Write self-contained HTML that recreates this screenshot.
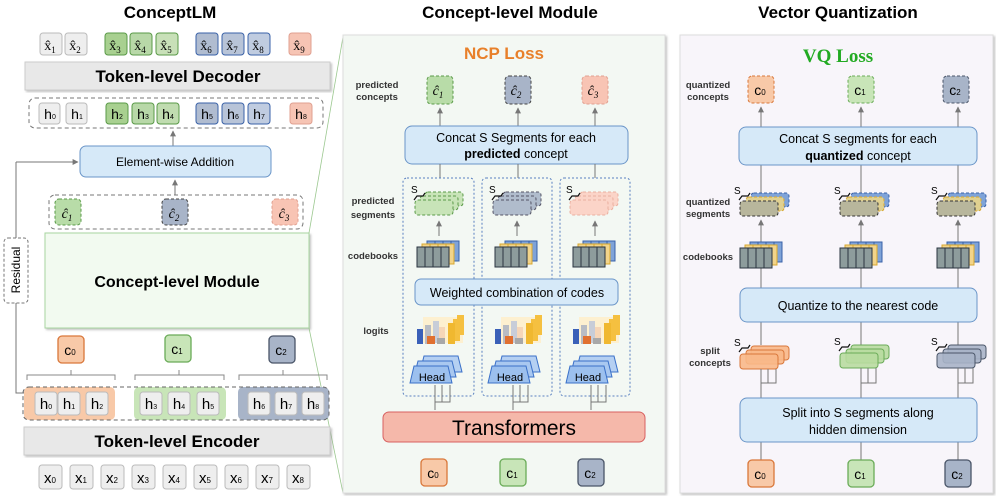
<!DOCTYPE html>
<html><head><meta charset="utf-8"><style>
html,body{margin:0;padding:0;background:#fff;}
svg{display:block;font-family:"Liberation Sans",sans-serif;}
.b{font-weight:bold}
.lab{font-size:9.5px;font-weight:bold;fill:#333;text-anchor:middle}
.ser{font-family:"Liberation Serif",serif;font-style:italic}
.xh{font-family:"Liberation Serif",serif;font-style:normal}
</style></head><body>
<svg width="996" height="496" viewBox="0 0 996 496" xmlns="http://www.w3.org/2000/svg">
<defs>
<marker id="ar" viewBox="0 0 10 10" refX="9" refY="5" markerWidth="6" markerHeight="6" orient="auto"><path d="M0,0L10,5L0,10z" fill="#777"/></marker>
<filter id="sh" x="-5%" y="-5%" width="115%" height="115%"><feDropShadow dx="1.5" dy="1.5" stdDeviation="1" flood-color="#999" flood-opacity="0.6"/></filter>
<g id="cb">
 <rect x="10" y="0" width="32" height="20" fill="#7fa3d8" stroke="#3a62a8"/>
 <path d="M18,0v20M26,0v20M34,0v20" stroke="#3a62a8"/>
 <rect x="5" y="3" width="32" height="20" fill="#f2d48a" stroke="#d8a830"/>
 <path d="M13,3v20M21,3v20M29,3v20" stroke="#d8a830"/>
 <rect x="0" y="6" width="32" height="20" fill="#8d9c9c" stroke="#2a3540"/>
 <path d="M8,6v20M16,6v20M24,6v20" stroke="#2a3540"/>
</g>
<g id="head">
 <polygon points="14,0 48,0 52,16 10,16" fill="#b5d0f2" stroke="#3a70c8"/>
 <polygon points="8,5 42,5 46,21 4,21" fill="#a9c8f0" stroke="#3a70c8"/>
 <polygon points="4,10 38,10 42,27 0,27" fill="#9cc0ee" stroke="#3a70c8"/>
</g>
<g id="logit">
 <rect x="6" y="2" width="40" height="26" fill="#fdf0d0"/>
 <rect x="16" y="6" width="6" height="22" fill="#c8cdd8"/>
 <rect x="22" y="12" width="6" height="16" fill="#f6d6b8"/>
 <rect x="0" y="14" width="6" height="15" fill="#3a60b8"/>
 <rect x="8" y="10" width="6" height="19" fill="#b8bcc4"/>
 <rect x="10" y="21" width="8" height="8" fill="#e07030"/>
 <rect x="20" y="23" width="8" height="6" fill="#a8a8a8"/>
 <rect x="40" y="0" width="7" height="20" fill="#f5c040"/>
 <rect x="36" y="4" width="7" height="22" fill="#f5c040"/>
 <rect x="31" y="8" width="7" height="21" fill="#f0b830"/>
</g>
</defs>

<text x="170" y="18" font-size="17" class="b" text-anchor="middle">ConceptLM</text>
<text x="510" y="18" font-size="17" class="b" text-anchor="middle">Concept-level Module</text>
<text x="838" y="18" font-size="17" class="b" text-anchor="middle">Vector Quantization</text>

<g font-size="12" text-anchor="middle">
<g stroke-width="1">
 <rect x="40" y="33" width="22" height="22" rx="3" fill="#eee" stroke="#bbb"/>
 <rect x="65" y="33" width="22" height="22" rx="3" fill="#eee" stroke="#bbb"/>
 <rect x="105" y="33" width="22" height="22" rx="3" fill="#a8d090" stroke="#5a9a48"/>
 <rect x="130" y="33" width="22" height="22" rx="3" fill="#b8d8a8" stroke="#5a9a48"/>
 <rect x="156" y="33" width="22" height="22" rx="3" fill="#c8e0b8" stroke="#5a9a48"/>
 <rect x="196" y="33" width="22" height="22" rx="3" fill="#b0bcd0" stroke="#3a62a8"/>
 <rect x="222" y="33" width="22" height="22" rx="3" fill="#b8c4d8" stroke="#3a62a8"/>
 <rect x="248" y="33" width="22" height="22" rx="3" fill="#c0cce0" stroke="#3a62a8"/>
 <rect x="289" y="33" width="22" height="22" rx="3" fill="#f6c4b4" stroke="#e0a090"/>
</g>
<g class="xh" font-size="14">
 <text x="50" y="50">x̂<tspan font-size="9" dy="3">1</tspan></text>
 <text x="75" y="50">x̂<tspan font-size="9" dy="3">2</tspan></text>
 <text x="115" y="50">x̂<tspan font-size="9" dy="3">3</tspan></text>
 <text x="140" y="50">x̂<tspan font-size="9" dy="3">4</tspan></text>
 <text x="166" y="50">x̂<tspan font-size="9" dy="3">5</tspan></text>
 <text x="206" y="50">x̂<tspan font-size="9" dy="3">6</tspan></text>
 <text x="232" y="50">x̂<tspan font-size="9" dy="3">7</tspan></text>
 <text x="258" y="50">x̂<tspan font-size="9" dy="3">8</tspan></text>
 <text x="299" y="50">x̂<tspan font-size="9" dy="3">9</tspan></text>
</g>
</g>
<rect x="25" y="62" width="305" height="28" fill="#e8e8e8" stroke="#ccc" filter="url(#sh)"/>
<text x="178" y="82" font-size="17" class="b" text-anchor="middle">Token-level Decoder</text>

<rect x="29" y="98" width="294" height="30" rx="6" fill="none" stroke="#777" stroke-dasharray="4,3"/>
<g stroke-width="1">
 <rect x="39" y="103" width="21" height="21" rx="3" fill="#eee" stroke="#bbb"/>
 <rect x="66" y="103" width="21" height="21" rx="3" fill="#eee" stroke="#bbb"/>
 <rect x="106" y="103" width="22" height="21" rx="3" fill="#a8d090" stroke="#5a9a48"/>
 <rect x="132" y="103" width="22" height="21" rx="3" fill="#b8d8a8" stroke="#5a9a48"/>
 <rect x="157" y="103" width="22" height="21" rx="3" fill="#c0dcb0" stroke="#5a9a48"/>
 <rect x="196" y="103" width="22" height="21" rx="3" fill="#b0bcd0" stroke="#3a62a8"/>
 <rect x="222" y="103" width="22" height="21" rx="3" fill="#b8c4d8" stroke="#3a62a8"/>
 <rect x="248" y="103" width="22" height="21" rx="3" fill="#c0cce0" stroke="#3a62a8"/>
 <rect x="290" y="103" width="22" height="21" rx="3" fill="#f6c4b4" stroke="#e0a090"/>
</g>
<g font-size="14" text-anchor="middle">
 <text x="50" y="119">h<tspan font-size="7">0</tspan></text>
 <text x="77" y="119">h<tspan font-size="7">1</tspan></text>
 <text x="117" y="119">h<tspan font-size="7">2</tspan></text>
 <text x="143" y="119">h<tspan font-size="7">3</tspan></text>
 <text x="168" y="119">h<tspan font-size="7">4</tspan></text>
 <text x="207" y="119">h<tspan font-size="7">5</tspan></text>
 <text x="233" y="119">h<tspan font-size="7">6</tspan></text>
 <text x="259" y="119">h<tspan font-size="7">7</tspan></text>
 <text x="301" y="119">h<tspan font-size="7">8</tspan></text>
</g>
<line x1="173" y1="146" x2="173" y2="131" stroke="#777" marker-end="url(#ar)"/>
<rect x="80" y="146" width="191" height="31" rx="6" fill="#d6e9f8" stroke="#6a95c8"/>
<text x="175" y="166" font-size="12" text-anchor="middle">Element-wise Addition</text>
<line x1="175" y1="195" x2="175" y2="180" stroke="#777" marker-end="url(#ar)"/>
<rect x="49" y="195" width="254" height="34" rx="6" fill="none" stroke="#777" stroke-dasharray="4,3"/>
<rect x="55" y="199" width="26" height="26" rx="4" fill="#b8dca8" stroke="#5a9a48" stroke-dasharray="3,2"/>
<rect x="162" y="199" width="26" height="26" rx="4" fill="#a8b4c8" stroke="#444" stroke-dasharray="3,2"/>
<rect x="272" y="199" width="26" height="26" rx="4" fill="#f8c4b4" stroke="#e0a090" stroke-dasharray="3,2"/>
<g class="ser" font-size="14" text-anchor="middle">
 <text x="67" y="218">ĉ<tspan font-size="9" dy="3">1</tspan></text>
 <text x="174" y="218">ĉ<tspan font-size="9" dy="3">2</tspan></text>
 <text x="284" y="218">ĉ<tspan font-size="9" dy="3">3</tspan></text>
</g>
<polyline points="24,393 16,393 16,303" fill="none" stroke="#777"/>
<line x1="16" y1="238" x2="16" y2="162" stroke="#777"/>
<line x1="16" y1="162" x2="78" y2="162" stroke="#777" marker-end="url(#ar)"/>
<rect x="4" y="238" width="24" height="65" rx="4" fill="#fff" stroke="#777" stroke-dasharray="3,2"/>
<text transform="translate(20,270) rotate(-90)" font-size="12" text-anchor="middle">Residual</text>

<rect x="45" y="233" width="264" height="95" fill="#f2faf0" stroke="#a8d5a0" filter="url(#sh)"/>
<text x="177" y="287" font-size="16" class="b" text-anchor="middle">Concept-level Module</text>
<line x1="309" y1="233" x2="343" y2="37" stroke="#9cc890" stroke-width="0.8"/>
<line x1="309" y1="328" x2="343" y2="493" stroke="#9cc890" stroke-width="0.8"/>

<rect x="58" y="336" width="26" height="27" rx="4" fill="#f8c9a8" stroke="#d9773a" stroke-width="1.3"/>
<rect x="165" y="335" width="26" height="27" rx="4" fill="#c8e5b8" stroke="#6aab58" stroke-width="1.3"/>
<rect x="269" y="336" width="26" height="27" rx="4" fill="#a8b4c8" stroke="#4a5568" stroke-width="1.3"/>
<g font-size="14" text-anchor="middle">
 <text x="70" y="355">c<tspan font-size="8">0</tspan></text>
 <text x="177" y="354">c<tspan font-size="8">1</tspan></text>
 <text x="281" y="355">c<tspan font-size="8">2</tspan></text>
</g>
<g fill="none" stroke="#888">
 <path d="M27,380v-5h88v5M71,375v-5"/>
 <path d="M135,380v-5h89v5M179,375v-5"/>
 <path d="M239,380v-5h88v5M283,375v-5"/>
</g>
<rect x="24" y="387" width="91" height="33" rx="5" fill="#f8c9a8"/>
<rect x="134" y="387" width="92" height="33" rx="5" fill="#c8e5b8"/>
<rect x="238" y="387" width="91" height="33" rx="5" fill="#a8b4c8"/>
<rect x="23" y="387" width="306" height="33" rx="6" fill="none" stroke="#666" stroke-dasharray="4,3"/>
<g fill="#eee" stroke="#bbb">
 <rect x="35" y="392" width="22" height="23" rx="3"/><rect x="58" y="392" width="22" height="23" rx="3"/><rect x="86" y="392" width="22" height="23" rx="3"/>
 <rect x="140" y="392" width="22" height="23" rx="3"/><rect x="168" y="392" width="22" height="23" rx="3"/><rect x="197" y="392" width="22" height="23" rx="3"/>
 <rect x="248" y="392" width="22" height="23" rx="3"/><rect x="275" y="392" width="22" height="23" rx="3"/><rect x="302" y="392" width="22" height="23" rx="3"/>
</g>
<g font-size="15" text-anchor="middle">
 <text x="46" y="409">h<tspan font-size="7">0</tspan></text>
 <text x="69" y="409">h<tspan font-size="7">1</tspan></text>
 <text x="97" y="409">h<tspan font-size="7">2</tspan></text>
 <text x="151" y="409">h<tspan font-size="7">3</tspan></text>
 <text x="179" y="409">h<tspan font-size="7">4</tspan></text>
 <text x="208" y="409">h<tspan font-size="7">5</tspan></text>
 <text x="259" y="409">h<tspan font-size="7">6</tspan></text>
 <text x="286" y="409">h<tspan font-size="7">7</tspan></text>
 <text x="313" y="409">h<tspan font-size="7">8</tspan></text>
</g>
<rect x="24" y="427" width="306" height="28" fill="#e8e8e8" stroke="#ccc" filter="url(#sh)"/>
<text x="177" y="447" font-size="17" class="b" text-anchor="middle">Token-level Encoder</text>
<g fill="#eee" stroke="#bbb">
 <rect x="39" y="465" width="23" height="24" rx="3"/><rect x="70" y="465" width="23" height="24" rx="3"/><rect x="101" y="465" width="23" height="24" rx="3"/>
 <rect x="132" y="465" width="23" height="24" rx="3"/><rect x="163" y="465" width="23" height="24" rx="3"/><rect x="194" y="465" width="23" height="24" rx="3"/>
 <rect x="225" y="465" width="23" height="24" rx="3"/><rect x="256" y="465" width="23" height="24" rx="3"/><rect x="287" y="465" width="23" height="24" rx="3"/>
</g>
<g font-size="15" text-anchor="middle">
 <text x="50" y="483">x<tspan font-size="8">0</tspan></text>
 <text x="81" y="483">x<tspan font-size="8">1</tspan></text>
 <text x="112" y="483">x<tspan font-size="8">2</tspan></text>
 <text x="143" y="483">x<tspan font-size="8">3</tspan></text>
 <text x="174" y="483">x<tspan font-size="8">4</tspan></text>
 <text x="205" y="483">x<tspan font-size="8">5</tspan></text>
 <text x="236" y="483">x<tspan font-size="8">6</tspan></text>
 <text x="267" y="483">x<tspan font-size="8">7</tspan></text>
 <text x="298" y="483">x<tspan font-size="8">8</tspan></text>
</g>

<rect x="343" y="35" width="322" height="458" fill="#f3f8f3" stroke="#ddd" filter="url(#sh)"/>
<text x="504" y="59" font-size="17" class="b" fill="#e8802a" text-anchor="middle">NCP Loss</text>
<text class="lab" x="377" y="88">predicted</text><text class="lab" x="377" y="100">concepts</text>
<text class="lab" x="373" y="204" font-size="10.5">predicted</text><text class="lab" x="373" y="218" font-size="10.5">segments</text>
<text class="lab" x="373" y="259" font-size="10.5">codebooks</text>
<text class="lab" x="376" y="334">logits</text>

<rect x="427" y="76" width="26" height="28" rx="4" fill="#b8dca8" stroke="#5a9a48" stroke-dasharray="3,2"/>
<rect x="505" y="76" width="26" height="28" rx="4" fill="#a8b4c8" stroke="#444" stroke-dasharray="3,2"/>
<rect x="582" y="76" width="26" height="28" rx="4" fill="#f8c4b4" stroke="#e0a090" stroke-dasharray="3,2"/>
<g class="ser" font-size="14" text-anchor="middle">
 <text x="438" y="95">ĉ<tspan font-size="9" dy="3">1</tspan></text>
 <text x="516" y="95">ĉ<tspan font-size="9" dy="3">2</tspan></text>
 <text x="593" y="95">ĉ<tspan font-size="9" dy="3">3</tspan></text>
</g>
<g stroke="#777" marker-end="url(#ar)">
 <line x1="440" y1="126" x2="440" y2="108"/><line x1="518" y1="126" x2="518" y2="108"/><line x1="595" y1="126" x2="595" y2="108"/>
</g>
<rect x="405" y="126" width="223" height="38" rx="7" fill="#d6e9f8" stroke="#6a95c8"/>
<text x="516" y="142" font-size="12.5" text-anchor="middle">Concat S Segments for each</text>
<text x="516" y="158" font-size="12.5" text-anchor="middle"><tspan class="b">predicted</tspan> concept</text>
<g stroke="#777"><line x1="440" y1="164" x2="440" y2="178"/><line x1="518" y1="164" x2="518" y2="178"/><line x1="595" y1="164" x2="595" y2="178"/></g>
<g fill="none" stroke="#5a80c0" stroke-dasharray="2,2">
 <rect x="403" y="178" width="71" height="218" rx="4"/>
 <rect x="482" y="178" width="70" height="218" rx="4"/>
 <rect x="560" y="178" width="70" height="218" rx="4"/>
</g>
<g stroke-dasharray="3,2">
 <g fill="#c8e4b8" stroke="#5a9a48"><rect x="425" y="192" width="38" height="14" rx="3"/><rect x="420" y="196" width="38" height="14" rx="3"/><rect x="415" y="200" width="38" height="15" rx="3"/></g>
 <g fill="#b0bccc" stroke="#556"><rect x="503" y="192" width="38" height="14" rx="3"/><rect x="498" y="196" width="38" height="14" rx="3"/><rect x="493" y="200" width="38" height="15" rx="3"/></g>
 <g fill="#fbd4c8" stroke="#eab0a0"><rect x="580" y="192" width="38" height="14" rx="3"/><rect x="575" y="196" width="38" height="14" rx="3"/><rect x="570" y="200" width="38" height="15" rx="3"/></g>
</g>
<g font-size="10"><text x="411" y="193">S</text><text x="489" y="193">S</text><text x="566" y="193">S</text></g>
<g fill="none" stroke="#111" stroke-width="1.2">
 <path d="M414,200l3,-4l6,0l2,-3"/><path d="M492,200l3,-4l6,0l2,-3"/><path d="M569,200l3,-4l6,0l2,-3"/>
</g>
<g stroke="#777" marker-end="url(#ar)">
 <line x1="439" y1="236" x2="439" y2="221"/><line x1="517" y1="236" x2="517" y2="221"/><line x1="595" y1="236" x2="595" y2="221"/>
</g>
<use href="#cb" x="417" y="241"/><use href="#cb" x="495" y="241"/><use href="#cb" x="573" y="241"/>
<rect x="415" y="279" width="203" height="26" rx="6" fill="#d6e9f8" stroke="#6a95c8"/>
<text x="517" y="297" font-size="12.5" text-anchor="middle">Weighted combination of codes</text>
<use href="#logit" x="417" y="315"/><use href="#logit" x="495" y="315"/><use href="#logit" x="573" y="315"/>
<use href="#head" x="410" y="356"/><use href="#head" x="488" y="356"/><use href="#head" x="566" y="356"/>
<g font-size="11" text-anchor="middle"><text x="432" y="381">Head</text><text x="510" y="381">Head</text><text x="588" y="381">Head</text></g>
<g fill="none" stroke="#777">
 <path d="M435,410V385M435,402H450V385M442,402V385"/>
 <path d="M513,410V385M513,402H528V385M520,402V385"/>
 <path d="M591,410V385M591,402H606V385M598,402V385"/>
</g>
<rect x="383" y="412" width="262" height="30" rx="6" fill="#f5b8aa" stroke="#d86060"/>
<text x="514" y="435" font-size="21" text-anchor="middle">Transformers</text>
<rect x="421" y="459" width="26" height="27" rx="4" fill="#f8c9a8" stroke="#d9773a" stroke-width="1.3"/>
<rect x="500" y="459" width="26" height="27" rx="4" fill="#c8e5b8" stroke="#6aab58" stroke-width="1.3"/>
<rect x="578" y="459" width="26" height="27" rx="4" fill="#a8b4c8" stroke="#4a5568" stroke-width="1.3"/>
<g font-size="14" text-anchor="middle">
 <text x="433" y="478">c<tspan font-size="8">0</tspan></text>
 <text x="512" y="478">c<tspan font-size="8">1</tspan></text>
 <text x="590" y="478">c<tspan font-size="8">2</tspan></text>
</g>

<rect x="680" y="35" width="313" height="458" fill="#f8f5fa" stroke="#ddd" filter="url(#sh)"/>
<text x="838" y="62" font-size="19" font-weight="bold" font-family="Liberation Serif,serif" fill="#22aa22" text-anchor="middle">VQ Loss</text>
<text class="lab" x="708" y="88">quantized</text><text class="lab" x="708" y="100">concepts</text>
<text class="lab" x="708" y="205">quantized</text><text class="lab" x="708" y="217">segments</text>
<text class="lab" x="708" y="260">codebooks</text>
<text class="lab" x="710" y="354">split</text><text class="lab" x="710" y="366">concepts</text>

<g stroke="#777">
 <line x1="761" y1="460" x2="761" y2="442"/><line x1="861" y1="460" x2="861" y2="442"/><line x1="958" y1="460" x2="958" y2="442"/>
 <line x1="761" y1="322" x2="761" y2="345"/><line x1="861" y1="322" x2="861" y2="345"/><line x1="958" y1="322" x2="958" y2="345"/>
 <line x1="761" y1="165" x2="761" y2="195"/><line x1="861" y1="165" x2="861" y2="195"/><line x1="958" y1="165" x2="958" y2="195"/>
 <line x1="761" y1="288" x2="761" y2="268"/><line x1="861" y1="288" x2="861" y2="268"/><line x1="958" y1="288" x2="958" y2="268"/>
</g>
<g stroke="#777" marker-end="url(#ar)">
 <line x1="761" y1="127" x2="761" y2="107"/><line x1="861" y1="127" x2="861" y2="107"/><line x1="958" y1="127" x2="958" y2="107"/>
 <line x1="761" y1="243" x2="761" y2="220"/><line x1="861" y1="243" x2="861" y2="220"/><line x1="958" y1="243" x2="958" y2="220"/>
</g>
<rect x="748" y="76" width="26" height="27" rx="4" fill="#f8c9a8" stroke="#d9773a" stroke-dasharray="3,2"/>
<rect x="848" y="76" width="26" height="27" rx="4" fill="#c8e5b8" stroke="#6aab58" stroke-dasharray="3,2"/>
<rect x="943" y="76" width="26" height="27" rx="4" fill="#a8b4c8" stroke="#4a5568" stroke-dasharray="3,2"/>
<g font-size="14" text-anchor="middle">
 <text x="760" y="95">c<tspan font-size="8">0</tspan></text>
 <text x="860" y="95">c<tspan font-size="8">1</tspan></text>
 <text x="955" y="95">c<tspan font-size="8">2</tspan></text>
</g>
<rect x="739" y="127" width="238" height="38" rx="7" fill="#d6e9f8" stroke="#6a95c8"/>
<text x="858" y="143" font-size="12.5" text-anchor="middle">Concat S segments for each</text>
<text x="858" y="160" font-size="12.5" text-anchor="middle"><tspan class="b">quantized</tspan> concept</text>
<g stroke-dasharray="3,2">
 <g><rect x="751" y="193" width="38" height="14" rx="3" fill="#7fa3d8" stroke="#3a62a8"/><rect x="746" y="197" width="38" height="14" rx="3" fill="#e0d090" stroke="#d8a830"/><rect x="740" y="201" width="38" height="15" rx="3" fill="#b8b69c" stroke="#333"/></g>
 <g><rect x="851" y="193" width="38" height="14" rx="3" fill="#7fa3d8" stroke="#3a62a8"/><rect x="846" y="197" width="38" height="14" rx="3" fill="#e0d090" stroke="#d8a830"/><rect x="840" y="201" width="38" height="15" rx="3" fill="#b8b69c" stroke="#333"/></g>
 <g><rect x="948" y="193" width="38" height="14" rx="3" fill="#7fa3d8" stroke="#3a62a8"/><rect x="943" y="197" width="38" height="14" rx="3" fill="#e0d090" stroke="#d8a830"/><rect x="937" y="201" width="38" height="15" rx="3" fill="#b8b69c" stroke="#333"/></g>
</g>
<g font-size="10"><text x="734" y="194">S</text><text x="834" y="194">S</text><text x="931" y="194">S</text></g>
<g fill="none" stroke="#111" stroke-width="1.2">
 <path d="M739,200l3,-4l6,0l2,-3"/><path d="M839,200l3,-4l6,0l2,-3"/><path d="M936,200l3,-4l6,0l2,-3"/>
</g>
<use href="#cb" x="740" y="242"/><use href="#cb" x="840" y="242"/><use href="#cb" x="937" y="242"/>
<rect x="740" y="288" width="237" height="34" rx="7" fill="#d6e9f8" stroke="#6a95c8"/>
<text x="858" y="310" font-size="12.5" text-anchor="middle">Quantize to the nearest code</text>
<g>
 <g fill="#f8b888" stroke="#d9773a" fill-opacity="0.9"><rect x="751" y="346" width="38" height="14" rx="3"/><rect x="746" y="350" width="38" height="14" rx="3"/><rect x="740" y="354" width="38" height="15" rx="3"/></g>
 <g fill="#b8dca0" stroke="#6aab58" fill-opacity="0.9"><rect x="851" y="345" width="38" height="14" rx="3"/><rect x="846" y="349" width="38" height="14" rx="3"/><rect x="840" y="353" width="38" height="15" rx="3"/></g>
 <g fill="#a8b4c8" stroke="#4a5568" fill-opacity="0.9"><rect x="948" y="345" width="38" height="14" rx="3"/><rect x="943" y="349" width="38" height="14" rx="3"/><rect x="937" y="353" width="38" height="15" rx="3"/></g>
</g>
<g font-size="10"><text x="734" y="346">S</text><text x="834" y="345">S</text><text x="931" y="345">S</text></g>
<g fill="none" stroke="#111" stroke-width="1.2">
 <path d="M739,352l3,-4l6,0l2,-3"/><path d="M839,351l3,-4l6,0l2,-3"/><path d="M936,351l3,-4l6,0l2,-3"/>
</g>
<g fill="none" stroke="#777">
 <path d="M761,398V369M761,383H776V369M768,383V369"/>
 <path d="M861,398V368M861,383H876V368M868,383V368"/>
 <path d="M958,398V368M958,383H973V368M965,383V368"/>
</g>
<rect x="740" y="398" width="237" height="44" rx="7" fill="#d6e9f8" stroke="#6a95c8"/>
<text x="858" y="417" font-size="12.5" text-anchor="middle">Split into S segments along</text>
<text x="858" y="434" font-size="12.5" text-anchor="middle">hidden dimension</text>
<rect x="748" y="460" width="26" height="27" rx="4" fill="#f8c9a8" stroke="#d9773a" stroke-width="1.3"/>
<rect x="848" y="460" width="26" height="27" rx="4" fill="#c8e5b8" stroke="#6aab58" stroke-width="1.3"/>
<rect x="945" y="460" width="26" height="27" rx="4" fill="#a8b4c8" stroke="#4a5568" stroke-width="1.3"/>
<g font-size="14" text-anchor="middle">
 <text x="760" y="479">c<tspan font-size="8">0</tspan></text>
 <text x="860" y="479">c<tspan font-size="8">1</tspan></text>
 <text x="957" y="479">c<tspan font-size="8">2</tspan></text>
</g>
</svg>
</body></html>
